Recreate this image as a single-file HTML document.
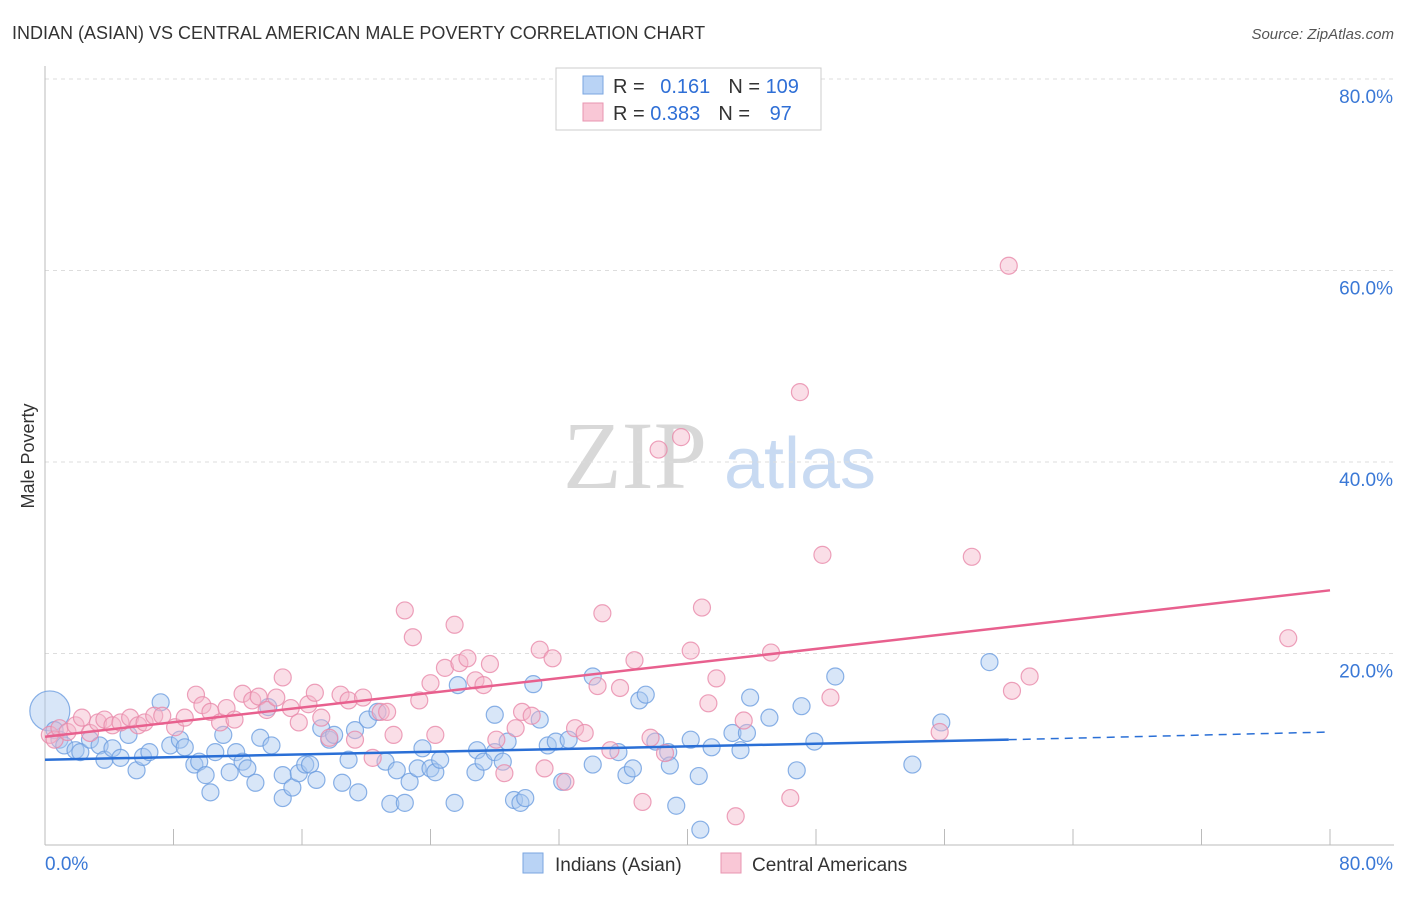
<!DOCTYPE html>
<html><head><meta charset="utf-8"><style>
body{margin:0;background:#fff;font-family:"Liberation Sans",sans-serif;}
svg text{font-family:"Liberation Sans",sans-serif;}
</style></head><body>
<svg id="c" width="1406" height="892" viewBox="0 0 1406 892">
<text x="12" y="39" font-size="18" fill="#333">INDIAN (ASIAN) VS CENTRAL AMERICAN MALE POVERTY CORRELATION CHART</text>
<text x="1394" y="39" font-size="15" fill="#555" font-style="italic" text-anchor="end">Source: ZipAtlas.com</text>
<g>
<text x="635" y="488" font-size="96" fill="#d8d8d8" text-anchor="middle" font-family="Liberation Serif,serif" style="font-family:'Liberation Serif',serif">ZIP</text>
<text x="800" y="488" font-size="72" fill="#c8daf2" text-anchor="middle">atlas</text>
</g>
<g id="grid"></g>
<g id="axes"></g>
<g id="marks"></g>
<text transform="translate(34,456) rotate(-90)" font-size="18" fill="#333" text-anchor="middle">Male Poverty</text>
<g>
<rect x="556" y="68" width="265" height="62" fill="#fff" stroke="#ccc"/>
<rect x="583" y="76" width="20" height="18" fill="#b9d3f5" stroke="#7aa6e0"/>
<rect x="583" y="103" width="20" height="18" fill="#f9c7d6" stroke="#e895b0"/>
<text x="613" y="93" font-size="20" fill="#333">R = <tspan fill="#2f6fd6" dx="10">0.161</tspan><tspan dx="18" fill="#333">N = </tspan><tspan fill="#2f6fd6">109</tspan></text>
<text x="613" y="120" font-size="20" fill="#333">R = <tspan fill="#2f6fd6">0.383</tspan><tspan dx="18" fill="#333">N = </tspan><tspan fill="#2f6fd6" dx="14">97</tspan></text>
</g>
<g>
<rect x="523" y="853" width="20" height="20" fill="#b9d3f5" stroke="#7aa6e0"/>
<text x="555" y="871" font-size="19" fill="#333">Indians (Asian)</text>
<rect x="721" y="853" width="20" height="20" fill="#f9c7d6" stroke="#e895b0"/>
<text x="752" y="871" font-size="19" fill="#333">Central Americans</text>
</g>
</svg>
<script>
const xTicks=[0,8,16,24,32,40,48,56,64,72,80];
const yTicks=[20,40,60,80];
const blueX=[0.3,0.6,0.9,1.2,1.9,2.2,2.8,3.4,3.7,4.2,4.7,5.2,5.7,6.1,6.5,7.2,7.8,8.4,8.7,9.3,9.6,10.0,10.3,10.6,11.1,11.5,11.9,12.3,12.6,13.1,13.4,13.9,14.1,14.8,14.8,15.4,15.8,16.2,16.5,16.9,17.2,17.7,18.0,18.5,18.9,19.3,19.5,20.1,20.7,21.2,21.5,21.9,22.4,22.7,23.2,23.5,24.0,24.3,24.6,25.5,25.7,26.8,26.9,27.3,28.0,28.0,28.5,28.8,29.2,29.6,29.9,30.4,30.8,31.3,31.8,32.2,32.6,34.1,34.1,35.7,36.2,36.6,37.0,37.4,38.0,38.8,38.9,39.3,40.2,40.7,40.8,41.5,42.8,43.3,43.7,43.9,45.1,46.8,47.1,47.9,49.2,54.0,55.8,58.8];
const blueY=[14.0,12.0,11.0,10.4,9.9,9.7,11.0,10.4,8.9,10.1,9.1,11.5,7.8,9.2,9.7,14.9,10.4,11.0,10.2,8.4,8.7,7.3,5.5,9.7,11.5,7.6,9.7,8.7,8.0,6.5,11.2,14.4,10.4,7.3,4.9,6.0,7.5,8.4,8.4,6.8,12.2,11.0,11.5,6.5,8.9,12.0,5.5,13.1,13.9,8.7,4.3,7.8,4.4,6.6,8.0,10.1,8.0,7.6,8.9,4.4,16.7,7.6,9.9,8.7,13.6,9.7,8.7,10.8,4.7,4.4,4.9,16.8,13.1,10.4,10.8,6.6,11.0,8.4,17.6,9.7,7.3,8.0,15.1,15.7,10.8,9.7,8.3,4.1,11.0,7.2,1.6,10.2,11.7,9.9,11.7,15.4,13.3,7.8,14.5,10.8,17.6,8.4,12.8,19.1];
const pinkX=[0.3,0.6,0.9,1.4,1.9,2.3,2.8,3.3,3.7,4.2,4.7,5.3,5.8,6.2,6.8,7.3,8.1,8.7,9.4,9.8,10.3,10.9,11.3,11.8,12.3,12.9,13.3,13.8,14.4,14.8,15.3,15.8,16.4,16.8,17.2,17.7,18.4,18.9,19.3,19.8,20.4,20.9,21.3,21.7,22.4,22.9,23.3,24.0,24.3,24.9,25.5,25.8,26.3,26.8,27.3,27.7,28.1,28.6,29.3,29.7,30.3,30.8,31.1,31.6,32.4,33.0,33.6,34.4,34.7,35.2,35.8,36.7,37.2,37.7,38.2,38.6,39.6,40.2,40.9,41.3,41.8,43.0,43.5,45.2,46.4,47.0,48.4,48.9,55.7,57.7,60.0,60.2,61.3,77.4];
const pinkY=[11.5,11.0,12.2,11.8,12.5,13.3,11.7,12.8,13.1,12.5,12.8,13.3,12.5,12.8,13.5,13.5,12.3,13.3,15.7,14.6,13.9,12.8,14.3,13.1,15.8,15.1,15.5,14.1,15.4,17.5,14.3,12.8,14.7,15.9,13.3,11.2,15.7,15.1,11.0,15.4,9.1,13.9,13.9,11.5,24.5,21.7,15.1,16.9,11.5,18.5,23.0,19.0,19.5,17.2,16.7,18.9,11.0,7.5,12.2,13.9,13.5,20.4,8.0,19.5,6.6,12.2,11.7,16.6,24.2,9.9,16.4,19.3,4.5,11.2,41.3,9.6,42.6,20.3,24.8,14.8,17.4,3.0,13.0,20.1,4.9,47.3,30.3,15.4,11.8,30.1,60.5,16.1,17.6,21.6];
const blueTrend=[[0,8.9],[60,11.0],[80,11.8]];
const pinkTrend=[[0,11.3],[80,26.6]];
const NS='http://www.w3.org/2000/svg';
const X0=45,X1=1330,Y0=845,Y20=191.5;
const sx=v=>X0+(v/80)*(X1-X0);
const sy=v=>Y0-v/20*Y20;
function mk(t,a,p){const e=document.createElementNS(NS,t);for(const k in a)e.setAttribute(k,a[k]);p.appendChild(e);return e;}
const grid=document.getElementById('grid'),axes=document.getElementById('axes'),marks=document.getElementById('marks');
yTicks.forEach(v=>{
 const l=mk('line',{x1:X0,x2:1394,y1:sy(v),y2:sy(v),stroke:'#ddd','stroke-dasharray':'4,4'},grid);
 
 
 const t=mk('text',{x:1393,y:sy(v)+24,'font-size':19,fill:'#3a78d6','text-anchor':'end'},axes);
 t.textContent=v.toFixed(1)+'%';
 
 
});
mk('line',{x1:X0,x2:X0,y1:66,y2:Y0,stroke:'#bbb'},axes);
mk('line',{x1:X0,x2:X1+64,y1:Y0,y2:Y0,stroke:'#bbb'},axes);
xTicks.forEach(v=>{
 const tk=mk('line',{x1:sx(v),x2:sx(v),y1:Y0,y2:829,stroke:'#bbb'},axes);
 
 
});
[[0,69,'start'],[80,1393,'end']].forEach(([v,x,a])=>{
 const t=mk('text',{x:x-24*(a==='start'),y:870,'font-size':19,fill:'#3a78d6','text-anchor':a},axes);
 t.textContent=v.toFixed(1)+'%';
 
 
});
function dots(xs,ys,fill,stroke,name){
 xs.forEach((x,i)=>{
  const c=mk('circle',{cx:sx(x),cy:sy(ys[i]),r:(name==='blue-point'&&i===0)?20:8.5,fill:fill,'fill-opacity':0.45,stroke:stroke,'stroke-width':1.2,'stroke-opacity':0.8},marks);
  
  
 });
}
dots(blueX,blueY,'#a9c7f0','#6d9de0','blue-point');
dots(pinkX,pinkY,'#f5b5c9','#e88aaa','pink-point');
let bl=mk('line',{x1:sx(blueTrend[0][0]),y1:sy(blueTrend[0][1]),x2:sx(blueTrend[1][0]),y2:sy(blueTrend[1][1]),stroke:'#2a6fd6','stroke-width':2.5},marks);


let bd=mk('line',{x1:sx(blueTrend[1][0]),y1:sy(blueTrend[1][1]),x2:sx(blueTrend[2][0]),y2:sy(blueTrend[2][1]),stroke:'#2a6fd6','stroke-width':1.5,'stroke-dasharray':'8,6'},marks);


let pl=mk('line',{x1:sx(pinkTrend[0][0]),y1:sy(pinkTrend[0][1]),x2:sx(pinkTrend[1][0]),y2:sy(pinkTrend[1][1]),stroke:'#e8608e','stroke-width':2.5},marks);


</script>
</body></html>
